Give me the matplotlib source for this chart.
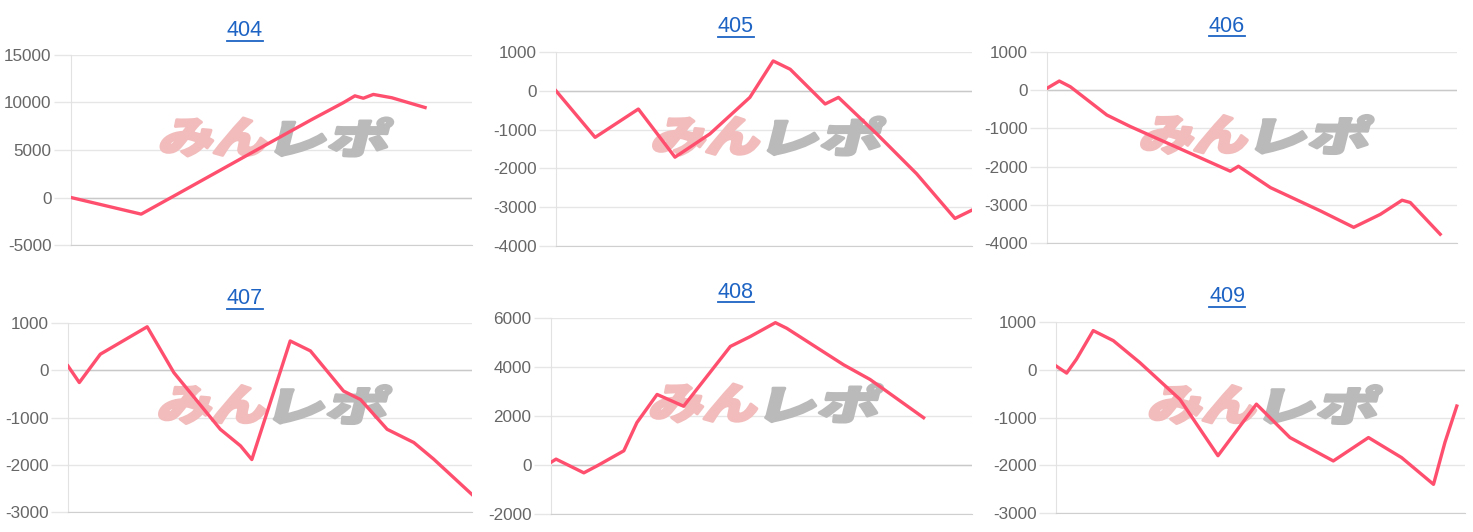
import matplotlib
matplotlib.use("Agg")
import matplotlib.pyplot as plt
from matplotlib.textpath import TextPath
from matplotlib.patches import PathPatch
from matplotlib.font_manager import FontProperties
from matplotlib.transforms import Affine2D
from matplotlib.lines import Line2D

plt.rcParams['font.family'] = ['Liberation Sans', 'DejaVu Sans']
plt.rcParams['axes.unicode_minus'] = False

# data (x = position along the axis in %, y = value)
titles = ['404', '405', '406', '407', '408', '409']

x404 = [0, 17.5, 26.4, 45, 60, 68, 70.8, 72.9, 75.4, 80, 88.3]
y404 = [0, -1750, 330, 4700, 8200, 10000, 10700, 10450, 10850, 10500, 9470]

x405 = [0, 9.4, 19.8, 28.6, 37.0, 46.6, 52.2, 56.3, 64.7, 67.9, 77.1, 86.7, 95.9, 99.9]
y405 = [0, -1200, -470, -1710, -1110, -170, 770, 555, -340, -170, -1110, -2140, -3290, -3080]

x406 = [0, 3.0, 5.7, 14.6, 20.3, 44.7, 46.7, 54.5, 66.7, 74.8, 81.3, 86.6, 88.6, 95.9]
y406 = [50, 240, 90, -650, -950, -2120, -1990, -2550, -3160, -3590, -3250, -2880, -2940, -3770]

x407 = [0, 2.8, 8.0, 19.6, 26.2, 37.7, 42.7, 45.5, 55.0, 60.0, 68.2, 72.4, 79.0, 85.6, 90.5, 100]
y407 = [90, -260, 340, 920, -50, -1250, -1600, -1890, 620, 410, -440, -620, -1250, -1530, -1880, -2630]

x408 = [0, 1.2, 7.8, 11.0, 17.3, 20.4, 25.2, 31.5, 42.6, 47.3, 53.3, 56.0, 69.5, 75.8, 88.5]
y408 = [110, 240, -320, -30, 580, 1730, 2880, 2400, 4840, 5240, 5810, 5580, 4090, 3490, 1930]

x409 = [0, 2.6, 5.0, 9.1, 14.0, 20.5, 30.3, 39.6, 49.0, 57.2, 67.8, 76.4, 84.5, 92.3, 95.1, 98.0]
y409 = [80, -70, 220, 820, 610, 150, -620, -1800, -720, -1420, -1910, -1420, -1840, -2400, -1520, -760]

series = [(x404, y404), (x405, y405), (x406, y406), (x407, y407), (x408, y408), (x409, y409)]
ylims = [(-5000, 15000), (-4000, 1000), (-4000, 1000), (-3000, 1000), (-2000, 6000), (-3000, 1000)]
ysteps = [5000, 1000, 1000, 1000, 2000, 1000]

W, H = 1473, 532
# axes boxes in pixels: left, top, right, bottom
boxes = [(71, 55, 472, 245), (556, 52, 972, 246), (1047, 52, 1457, 243),
         (68, 323, 472, 512), (551, 318, 972, 514), (1056, 322, 1465, 513)]
title_pos = [(245, 31), (736, 27), (1227, 26), (245, 299), (736, 292), (1227, 297)]

line_color = '#ff4f6e'
title_color = '#1d63c4'

fig = plt.figure(figsize=(W / 100, H / 100), dpi=100)
fig.patch.set_facecolor('white')

cjk = FontProperties(family='Noto Sans CJK JP', weight='heavy')


def logo_patch(text, box, color):
    # fit a glyph path into a pixel box (display coords) with a slant
    p = TextPath((0, 0), text, size=1, prop=cjk)
    e = p.get_extents()
    x0, y0, x1, y1 = box
    tr = (Affine2D().translate(-e.x0, -e.y0)
          .scale((x1 - x0) / e.width, (y1 - y0) / e.height)
          .translate(-(x1 - x0) / 2, 0)
          .skew_deg(14, 0)
          .translate((x0 + x1) / 2, y0))
    return PathPatch(p, transform=tr, facecolor=color, edgecolor=color,
                     linewidth=2.2, joinstyle='round', zorder=1)


texts = []
for i, (l, t, r, b) in enumerate(boxes):
    ax = fig.add_axes([l / W, 1 - b / H, (r - l) / W, (b - t) / H])
    xs, ys = series[i]
    lo, hi = ylims[i]
    ax.set_xlim(0, 100)
    ax.set_ylim(lo, hi)
    ax.set_yticks(range(lo, hi + 1, ysteps[i]))
    ax.set_xticks([])
    ax.grid(axis='y', color='#e6e6e6', linewidth=1)
    ax.set_axisbelow(True)
    ax.axhline(0, color='#c9c9c9', linewidth=1, zorder=0.8)
    for s in ['top', 'right']:
        ax.spines[s].set_visible(False)
    ax.spines['left'].set_color('#e2e2e2')
    ax.spines['bottom'].set_color('#cfcfcf')
    ax.tick_params(axis='y', length=12, width=1, color='#e6e6e6', pad=2,
                   labelsize=12.3, labelcolor='#666666')

    # watermark
    cx = (l + r) / 2
    cy = H - ((t + b) / 2 - 13)
    ax.add_patch(logo_patch('みん', (cx - 113, cy - 19, cx - 8, cy + 19), '#f2bcbc'))
    ax.add_patch(logo_patch('レポ', (cx + 3, cy - 19, cx + 113, cy + 19), '#bababa'))

    ax.plot(xs, ys, color=line_color, linewidth=2.4, solid_joinstyle='round', zorder=3)

    tx, ty = title_pos[i]
    texts.append(fig.text(tx / W, 1 - ty / H, titles[i], ha='center', va='center',
                          fontsize=15.5, color=title_color))

# underline titles
fig.canvas.draw()
rend = fig.canvas.get_renderer()
for tt in texts:
    bb = tt.get_window_extent(renderer=rend)
    yy = bb.y0 + 1
    fig.add_artist(Line2D([bb.x0 / W, bb.x1 / W], [yy / H, yy / H], color=title_color,
                          linewidth=1.3, transform=fig.transFigure))

fig.savefig('out.png', dpi=100, facecolor='white')
